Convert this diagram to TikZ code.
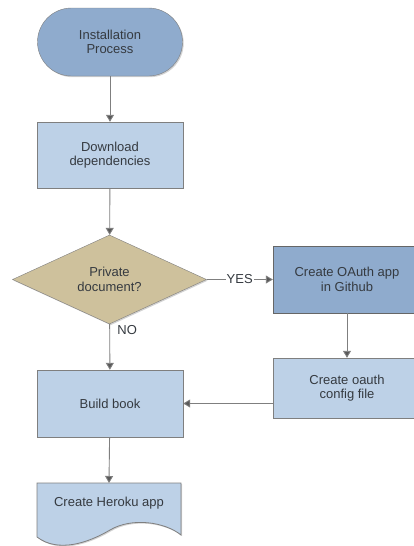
\documentclass[tikz,border=0pt]{standalone}
\usepackage{fontspec}
\setmainfont{Liberation Sans}
\usetikzlibrary{shapes.geometric,shadows,arrows.meta}

\definecolor{darkblue}{HTML}{8FABCD}
\definecolor{lightblue}{HTML}{BDD1E7}
\definecolor{tan}{HTML}{CEC19C}
\definecolor{edgegray}{HTML}{7F7F7F}
\definecolor{textgray}{HTML}{353A40}

\begin{document}
\begin{tikzpicture}[
    x=1pt, y=-1pt,
    every node/.style={font=\fontsize{13}{14.5}\selectfont, text=textgray, align=center},
    shade/.style={drop shadow={shadow xshift=1.2pt, shadow yshift=-1.2pt, opacity=0.35}},
    terminal/.style={draw=edgegray, fill=darkblue, shade, rounded corners=34pt, minimum width=145pt, minimum height=68pt},
    process/.style={draw=edgegray, fill=lightblue, shade, minimum width=146pt, minimum height=66pt},
    darkproc/.style={process, fill=darkblue, draw=black!60},
    decision/.style={diamond, draw=edgegray, fill=tan, shade, inner sep=0pt, minimum width=194pt, minimum height=89pt},
    link/.style={draw=edgegray, line width=0.9pt, -{Triangle[length=7pt, width=8pt, fill=black!65]}},
    branch/.style={fill=white, inner sep=1pt},
  ]
  \clip (0,0) rectangle (414,546);
  \useasboundingbox (0,0) rectangle (414,546);

  % Main column
  \node[terminal] (start) at (110,42) {Installation\\Process};
  \node[process] (deps) at (110,155) {Download\\dependencies};
  \node[decision] (priv) at (109.5,279.5) {Private\\document?};
  \node[process, minimum height=67pt] (build) at (110,403.5) {Build book};

  % Right column
  \node[darkproc, minimum width=148pt, minimum height=67pt] (oauth) at (347,279.5) {Create OAuth app\\in Github};
  \node[process, minimum width=148pt, minimum height=60pt] (cfg) at (347,388) {Create oauth\\config file};

  % Document shape
  \draw[draw=edgegray, fill=lightblue, shade, line width=0.8pt]
    (37,483) -- (181,483) -- (181,535)
    .. controls (165,522) and (132,517) .. (110,530)
    .. controls (88,543) and (58,553) .. (37,537) -- cycle;
  \node (heroku) at (109,503) {Create Heroku app};

  % Connectors
  \draw[link] (start) -- (deps);
  \draw[link] (deps) -- (priv);
  \draw[link] (priv) -- node[branch] {YES} (oauth);
  \draw[link] (priv) -- node[pos=0.12, anchor=west, xshift=4pt] {NO} (build);
  \draw[link] (oauth) -- (cfg);
  \draw[link] (cfg.west |- build.east) -- (build.east);
  \draw[link] (build) -- (heroku.north |- 0,483);
\end{tikzpicture}
\end{document}
